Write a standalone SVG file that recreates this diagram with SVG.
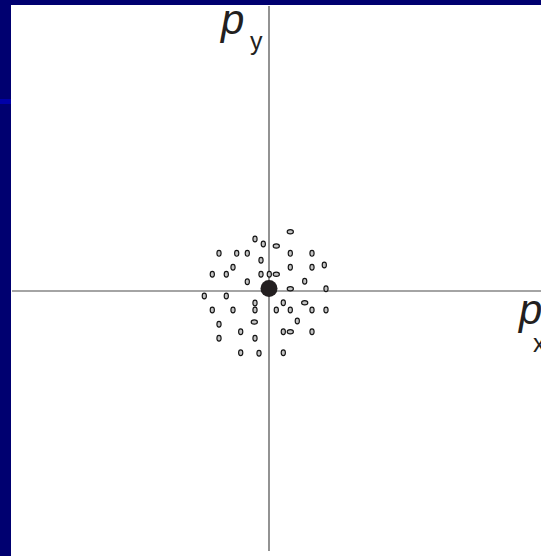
<svg xmlns="http://www.w3.org/2000/svg" width="541" height="556" viewBox="0 0 541 556">
<style>
.axis{stroke:#4a4a4a;stroke-width:1.2;fill:none}
.d{fill:#c4c4c4;stroke:#141414;stroke-width:1.15}
.lbl{font-family:"Liberation Sans",Arial,sans-serif;fill:#231f20}
</style>
<defs>
<ellipse id="v" class="d" rx="2.1" ry="2.9"/>
<ellipse id="h" class="d" rx="3.1" ry="2.1"/>
</defs>
<rect x="0" y="0" width="541" height="556" fill="#ffffff"/>
<rect x="0" y="0" width="541" height="5" fill="#000070"/>
<rect x="0" y="0" width="11" height="556" fill="#000070"/>
<rect x="0" y="99" width="11" height="5" fill="#0000a8"/>
<g id="connectors">
<line class="axis" x1="269" y1="6" x2="269" y2="551"/>
<line class="axis" x1="12" y1="291" x2="541" y2="291"/>
</g>
<g id="label-py">
<text class="lbl" x="221" y="34" font-size="42" font-style="italic">p</text>
<text class="lbl" x="250" y="50" font-size="25">y</text>
</g>
<g id="label-px">
<text class="lbl" x="519" y="324" font-size="42" font-style="italic">p</text>
<text class="lbl" x="533" y="352" font-size="25">x</text>
</g>
<g id="dots">
<use href="#h" x="290.3" y="231.7"/>
<use href="#v" x="255" y="239"/>
<use href="#v" x="263.3" y="244"/>
<use href="#h" x="276.3" y="246"/>
<use href="#v" x="219" y="253.3"/>
<use href="#v" x="236.7" y="253.3"/>
<use href="#v" x="247.3" y="253.3"/>
<use href="#v" x="290.3" y="253.3"/>
<use href="#v" x="312" y="253.3"/>
<use href="#v" x="261" y="260.3"/>
<use href="#v" x="233" y="267.3"/>
<use href="#v" x="290.3" y="267.3"/>
<use href="#v" x="312" y="267.3"/>
<use href="#v" x="324.3" y="265"/>
<use href="#v" x="212.3" y="274.3"/>
<use href="#v" x="226.3" y="274.3"/>
<use href="#v" x="261" y="274.3"/>
<use href="#v" x="269.3" y="274.3"/>
<use href="#h" x="276.3" y="274.3"/>
<use href="#v" x="247.3" y="281.7"/>
<use href="#v" x="304.7" y="281.3"/>
<use href="#v" x="204.3" y="296"/>
<use href="#v" x="226.3" y="296"/>
<use href="#h" x="290.3" y="288.7"/>
<use href="#v" x="326" y="288.7"/>
<use href="#v" x="255" y="303"/>
<use href="#v" x="283.3" y="302.7"/>
<use href="#h" x="304.7" y="302.7"/>
<use href="#v" x="212.3" y="310"/>
<use href="#v" x="233" y="310"/>
<use href="#v" x="255" y="310"/>
<use href="#v" x="276.3" y="310"/>
<use href="#v" x="290.3" y="310"/>
<use href="#v" x="312" y="310"/>
<use href="#v" x="326" y="310"/>
<use href="#v" x="219" y="324.3"/>
<use href="#h" x="254.3" y="322"/>
<use href="#v" x="297.3" y="321"/>
<use href="#v" x="240.7" y="331.7"/>
<use href="#v" x="283.3" y="331.7"/>
<use href="#h" x="290.3" y="331.7"/>
<use href="#v" x="312" y="331.7"/>
<use href="#v" x="219" y="338.3"/>
<use href="#v" x="255" y="338.3"/>
<use href="#v" x="240.7" y="352.7"/>
<use href="#v" x="259" y="353.3"/>
<use href="#v" x="283.3" y="352.7"/>
</g>
<g id="origin">
<circle cx="269" cy="288.6" r="8.5" fill="#231f20"/>
</g>
</svg>
